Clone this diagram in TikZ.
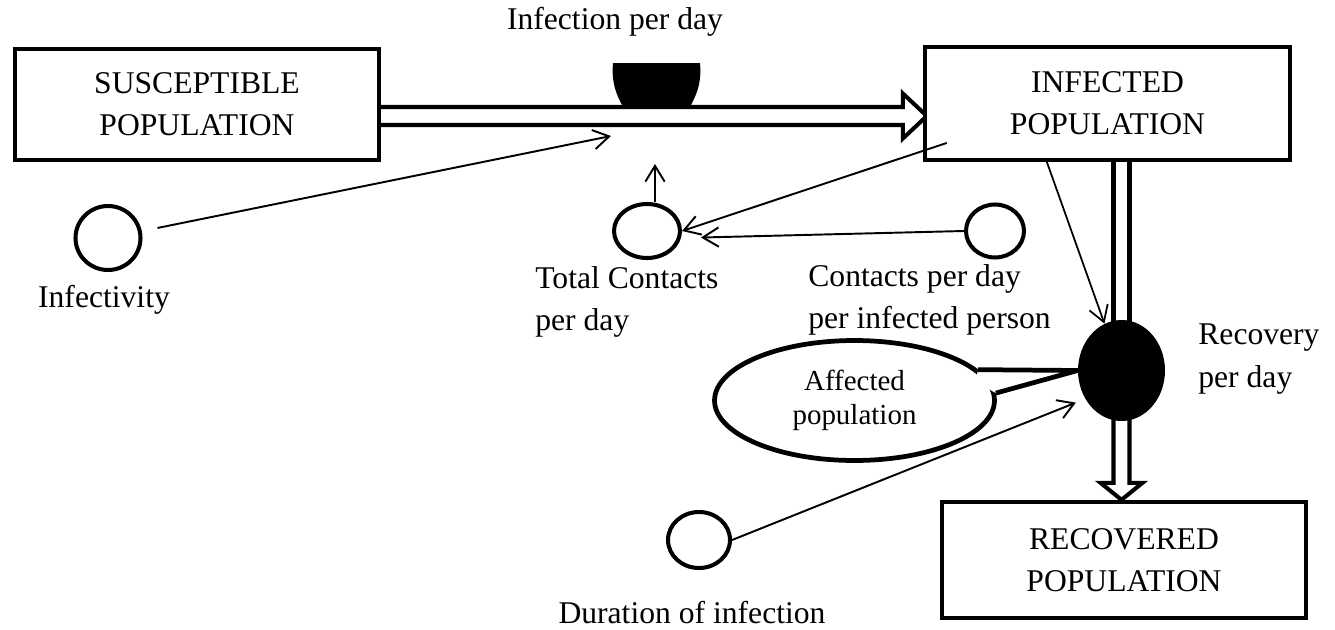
\documentclass[tikz,border=0pt]{standalone}
\usepackage{fontspec}
\setmainfont{Liberation Serif}
\usetikzlibrary{arrows.meta,shapes.geometric,calc,backgrounds}

\begin{document}
\begin{tikzpicture}[
    x=0.02cm, y=-0.02cm,
    stock/.style={draw, line width=2.5pt, fill=white, inner sep=0pt, align=center,
                  font=\fontsize{18}{24}\selectfont},
    aux/.style={draw, ellipse, line width=2.3pt, fill=white, inner sep=0pt},
    lbl/.style={inner sep=0pt, font=\fontsize{18}{24}\selectfont},
    link/.style={-{Straight Barb[length=9pt,width=11pt]}, line width=1.1pt},
    pipe/.style={draw, line width=2.3pt, fill=white, line join=miter}
]
    \useasboundingbox (0,0) rectangle (1335,629);

    % stocks
    \node[stock, minimum width=7.28cm, minimum height=2.22cm] (sus) at (197,104.5) {SUSCEPTIBLE\\POPULATION};
    \node[stock, minimum width=7.3cm, minimum height=2.25cm] (inf) at (1107.5,103.5) {INFECTED\\POPULATION};
    \node[stock, minimum width=7.28cm, minimum height=2.32cm] (rec) at (1124,560) {RECOVERED\\POPULATION};

    % auxiliaries and rate
    \node[aux, minimum width=1.3cm, minimum height=1.28cm] (ivty) at (108,238) {};
    \node[aux, minimum width=1.32cm, minimum height=1.08cm] (tcon) at (647,231) {};
    \node[aux, minimum width=1.16cm, minimum height=1.06cm] (cpd) at (995,231) {};
    \node[aux, minimum width=1.24cm, minimum height=1.12cm] (dur) at (699,540) {};
    \node[ellipse, fill=black, inner sep=0pt, minimum width=1.74cm, minimum height=2.02cm] (rcv) at (1121.5,370.5) {};

    % labels
    \node[lbl] (vlbl) at (615,22) {Infection per day};
    \node[lbl] (ivtyl) at (104,300) {Infectivity};
    \node[lbl, align=left, anchor=west] (tconl) at (535,302) {Total Contacts\\per day};
    \node[lbl, align=left, anchor=west] (cpdl) at (808,300) {Contacts per day\\per infected person};
    \node[lbl, align=left, anchor=west] (rcvl) at (1198,359) {Recovery\\per day};
    \node[lbl] (durl) at (692,613) {Duration of infection};

    % callout
    \node[ellipse, draw, line width=2.7pt, inner sep=0pt, minimum width=5.6cm, minimum height=2.4cm,
          align=center, font=\fontsize{16.5}{19}\selectfont] (aff) at (854.5,400.5) {Affected\\population};
    \fill[white] (aff.14) -- (rcv.west) -- (aff.3) -- ($(aff.8)+(-15,0)$) -- cycle;
    \draw[line width=2.7pt, line join=miter] (aff.14) -- (rcv.west) -- (aff.3);

    % flows
    \begin{scope}[on background layer]
        \coordinate (fin) at ($(sus.east)+(0,11.5)$);
        \coordinate (fout) at ($(fin -| inf.west)+(4,0)$);
        \draw[pipe] ($(fin)+(-5,-9)$) -- ($(fout)+(-24,-9)$) -- ($(fout)+(-24,-22.5)$) -- (fout)
            -- ($(fout)+(-24,22.5)$) -- ($(fout)+(-24,9)$) -- ($(fin)+(-5,9)$) -- cycle;
        \draw[pipe] ($(inf.south -| rcv)+(-8,-5)$) rectangle ($(rcv.center)+(8,0)$);
        \coordinate (rin) at (rcv.center |- rec.north);
        \draw[pipe] ($(rcv.center)+(-8,0)$) -- ($(rin)+(-8,-17)$) -- ($(rin)+(-21,-17)$) -- (rin)
            -- ($(rin)+(21,-17)$) -- ($(rin)+(8,-17)$) -- ($(rcv.center)+(8,0)$) -- cycle;
    \end{scope}

    % valve
    \coordinate (valve) at (656.5,63);
    \fill ($(valve)+(-43.5,0)$) -- ($(valve)+(43.5,0)$) .. controls +(2,22) and +(4,-8) .. ($(valve)+(34.5,42)$)
        -- ($(valve)+(-34.5,42)$) .. controls +(-4,-8) and +(-2,22) .. ($(valve)+(-43.5,0)$) -- cycle;

    % links
    \coordinate (ihit) at (611,136);
    \coordinate (ileft) at ($(inf.south west)+(24,-19)$);
    \coordinate (tup) at (655,164);
    \draw[link, shorten <=0.32cm] (ivty) -- (ihit);
    \draw[link] (ileft) -- (tcon.east);
    \draw[link, shorten >=0.38cm] (cpd.west) -- ([yshift=-0.14cm]tcon.east);
    \draw[link] (tcon.north -| tup) -- (tup);
    \draw[link, line width=1pt] ($(inf.south west)+(124,0)$) -- (rcv.110);
    \draw[link, shorten >=0.2cm] (dur.east) -- (rcv.218);
\end{tikzpicture}
\end{document}
